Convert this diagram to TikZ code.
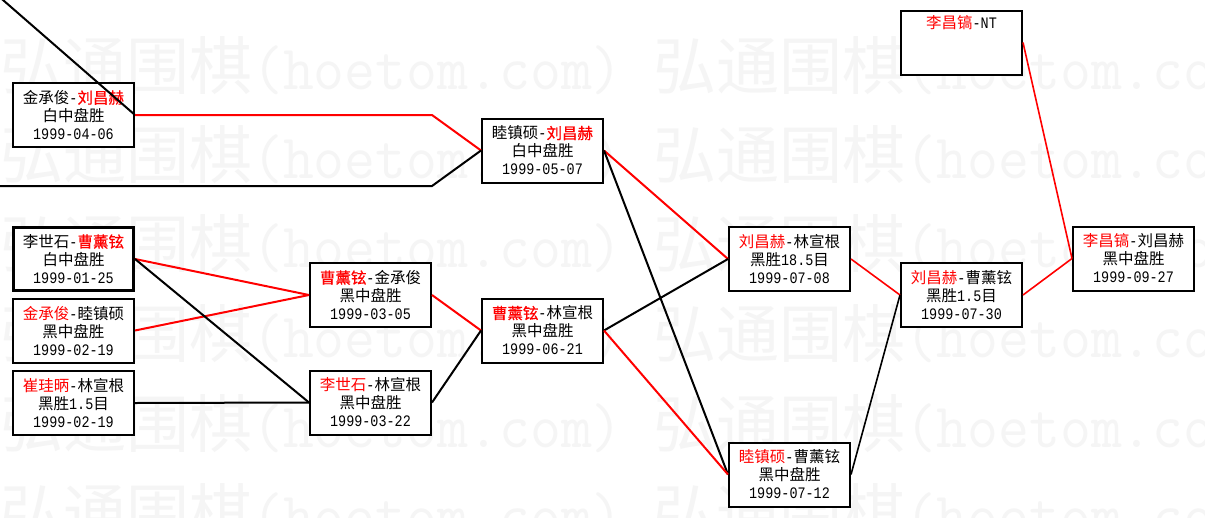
\documentclass[tikz,border=0pt]{standalone}
\usepackage{fontspec}
\setmainfont{Noto Sans CJK SC}
\newfontfamily\cjkbold[FakeBold=0.6]{Noto Sans CJK SC}
\newfontfamily\hwfont[FakeStretch=0.84]{Liberation Mono}
\newfontfamily\wmasc[FakeStretch=0.952]{Latin Modern Mono}
\newcommand\rd[1]{\textcolor{red}{#1}}
\newcommand\rdb[1]{\textcolor{red}{\cjkbold #1}}
\newcommand\hw[1]{{\hwfont\fontsize{16}{18}\selectfont #1}}
\tikzset{
  game/.style={draw=black, line width=2pt, fill=white, minimum width=121pt,
    minimum height=64pt, inner sep=0pt, align=center,
    font=\fontsize{15.5}{18}\selectfont},
  seedgame/.style={game, line width=3pt, minimum width=120pt, minimum height=63pt},
  win/.style={draw=red, line width=2pt, line join=miter},
  lose/.style={draw=black, line width=2pt, line join=miter},
  winthin/.style={win, line width=1.6pt},
  losethin/.style={lose, line width=1.6pt},
  wm/.style={text=black!4, anchor=west, inner sep=0pt, font=\fontsize{63}{63}\selectfont}
}
\begin{document}
\begin{tikzpicture}[x=1pt,y=-1pt]
\useasboundingbox (0,0) rectangle (1205,517);
\clip (0,0) rectangle (1205,517);
\fill[white] (0,0) rectangle (1205,517);
% watermark
\foreach \yy [count=\i] in {66,155,244,334,424,513}{
  \node[wm] (w\i) at (0,\yy) {弘通围棋{\wmasc (hoetom.com) }弘通围棋{\wmasc (hoetom.com)}};
}
% games
\node[game] (A) at (73.5,115) {金承俊\hw{-}\rdb{刘昌赫}\\白中盘胜\\\hw{1999-04-06}};
\node[seedgame] (B) at (73.5,259) {李世石\hw{-}\rdb{曹薰铉}\\白中盘胜\\\hw{1999-01-25}};
\node[game] (C) at (73.5,330.5) {\rd{金承俊}\hw{-}睦镇硕\\黑中盘胜\\\hw{1999-02-19}};
\node[game] (D) at (73.5,403) {\rd{崔珪昞}\hw{-}林宣根\\黑胜\hw{1.5}目\\\hw{1999-02-19}};
\node[game] (E) at (370.5,295) {\rdb{曹薰铉}\hw{-}金承俊\\黑中盘胜\\\hw{1999-03-05}};
\node[game] (F) at (370.5,402.5) {\rd{李世石}\hw{-}林宣根\\黑中盘胜\\\hw{1999-03-22}};
\node[game] (G) at (542.5,150.5) {睦镇硕\hw{-}\rdb{刘昌赫}\\白中盘胜\\\hw{1999-05-07}};
\node[game] (H) at (542.5,330.5) {\rdb{曹薰铉}\hw{-}林宣根\\黑中盘胜\\\hw{1999-06-21}};
\node[game] (I) at (789.5,259) {\rd{刘昌赫}\hw{-}林宣根\\黑胜\hw{18.5}目\\\hw{1999-07-08}};
\node[game] (J) at (789.5,474.5) {\rd{睦镇硕}\hw{-}曹薰铉\\黑中盘胜\\\hw{1999-07-12}};
\node[game] (M) at (961.5,295) {\rd{刘昌赫}\hw{-}曹薰铉\\黑胜\hw{1.5}目\\\hw{1999-07-30}};
\node[game] (K) at (961.5,42.5) {\rd{李昌镐}\hw{-NT}\\\strut\\\strut};
\node[game] (L) at (1133.5,258.5) {\rd{李昌镐}\hw{-}刘昌赫\\黑中盘胜\\\hw{1999-09-27}};
% free ends
\coordinate (top) at (-20,-20);
\coordinate (bendA) at (432,115);
\coordinate (left2) at (0,186);
\coordinate (bend2) at (432,186);
% connectors
\draw[lose] (top) -- (A.east);
\draw[win] (A.east) -- (bendA) -- (G.west);
\draw[lose] (left2) -- (bend2) -- (G.west);
\draw[win] (B.east) -- (E.west);
\draw[win] (C.east) -- (E.west);
\draw[lose] (B.east) -- (F.west);
\draw[lose] (D.east) -- (F.west);
\draw[win] (E.east) -- (H.west);
\draw[lose] (F.east) -- (H.west);
\draw[win] (G.east) -- (I.west);
\draw[lose] (G.east) -- (J.west);
\draw[lose] (H.east) -- (I.west);
\draw[win] (H.east) -- (J.west);
\draw[winthin] (I.east) -- (M.west);
\draw[losethin] (J.east) -- (M.west);
\draw[winthin] (M.east) -- (L.west);
\draw[winthin] (K.east) -- (L.west);
\end{tikzpicture}
\end{document}
